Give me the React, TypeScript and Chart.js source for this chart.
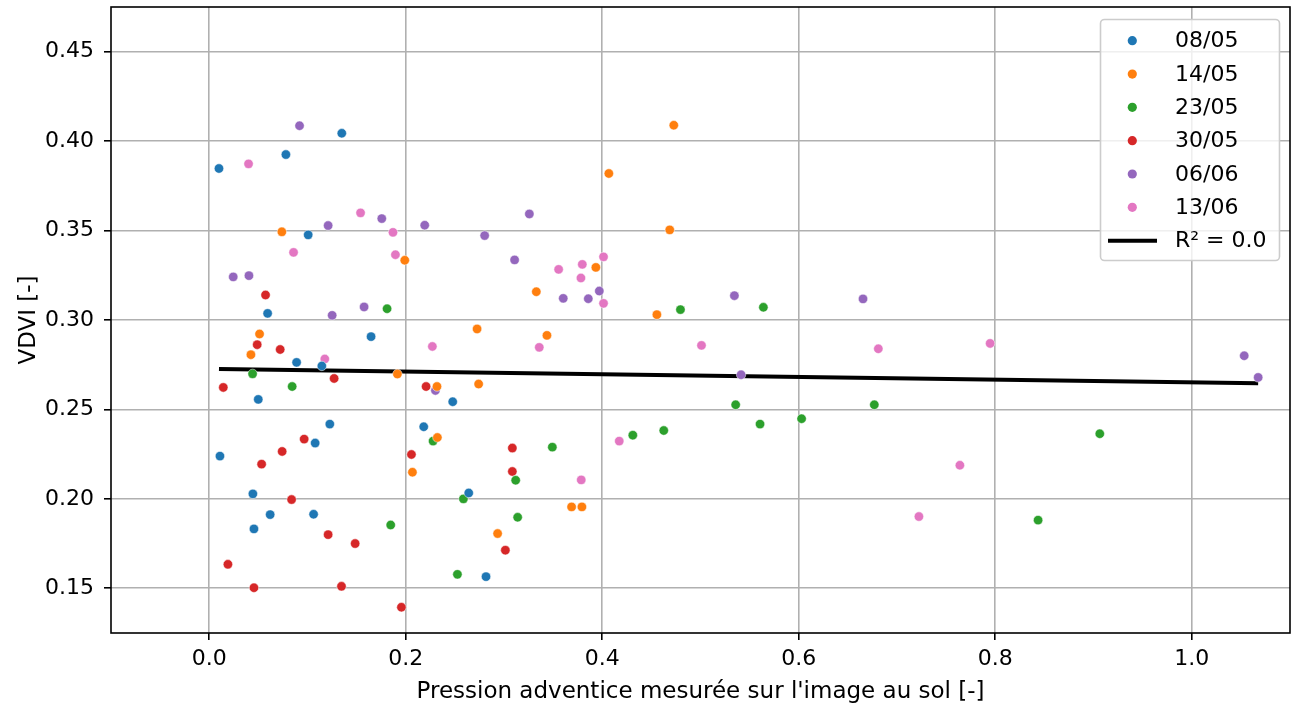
import React, { useEffect, useRef } from "react";
import { Chart, registerables } from "chart.js";

Chart.register(...registerables);

// Survey dates and their colours
const SERIES_LABELS = ["08/05", "14/05", "23/05", "30/05", "06/06", "13/06"];
const SERIES_COLORS = ["#1f77b4", "#ff7f0e", "#2ca02c", "#d62728", "#9467bd", "#e377c2"];

// Weed pressure (x) and VDVI (y) per survey date
const X_0805 = [0.1349, 0.078, 0.0099, 0.1007, 0.0594, 0.1647, 0.0889, 0.1146, 0.0499, 0.2478, 0.1227, 0.2183, 0.1078, 0.0109, 0.0444, 0.2641, 0.062, 0.1062, 0.0455, 0.2817];
const Y_0805 = [0.4044, 0.3925, 0.3847, 0.3476, 0.3037, 0.2907, 0.2763, 0.2743, 0.2556, 0.2543, 0.2418, 0.2403, 0.2312, 0.2239, 0.2028, 0.2033, 0.1912, 0.1914, 0.1832, 0.1565];

const X_1405 = [0.4728, 0.4067, 0.4687, 0.0739, 0.199, 0.3935, 0.3329, 0.4556, 0.2726, 0.0512, 0.3437, 0.0424, 0.1915, 0.2742, 0.2318, 0.2322, 0.2068, 0.3688, 0.3793, 0.2935];
const Y_1405 = [0.4089, 0.3819, 0.3504, 0.3493, 0.3334, 0.3294, 0.3158, 0.303, 0.295, 0.2922, 0.2914, 0.2806, 0.2698, 0.2642, 0.2628, 0.2343, 0.2149, 0.1955, 0.1955, 0.1806];

const X_2305 = [0.181, 0.564, 0.4796, 0.0441, 0.0844, 0.5358, 0.6769, 0.6029, 0.5606, 0.4626, 0.4311, 0.9064, 0.2278, 0.3492, 0.3119, 0.2587, 0.3139, 0.1847, 0.8436, 0.2526];
const Y_2305 = [0.3063, 0.3071, 0.3058, 0.2699, 0.2628, 0.2526, 0.2526, 0.2448, 0.2418, 0.2382, 0.2356, 0.2364, 0.2323, 0.2289, 0.2104, 0.2, 0.1897, 0.1854, 0.1881, 0.1578];

const X_3005 = [0.0573, 0.0488, 0.0722, 0.1271, 0.0143, 0.2207, 0.0966, 0.0742, 0.2058, 0.0533, 0.3085, 0.3085, 0.0838, 0.121, 0.1485, 0.3014, 0.019, 0.0455, 0.1346, 0.1956];
const Y_3005 = [0.314, 0.2862, 0.2835, 0.2673, 0.2623, 0.2628, 0.2334, 0.2265, 0.2248, 0.2194, 0.2284, 0.2153, 0.1996, 0.18, 0.175, 0.1713, 0.1634, 0.1503, 0.1511, 0.1394];

const X_0606 = [0.0919, 0.3258, 0.1756, 0.2193, 0.121, 0.2803, 0.3108, 0.0244, 0.0404, 0.397, 0.5345, 0.3603, 0.3858, 0.6654, 0.1576, 0.1251, 1.0534, 0.5413, 1.0676, 0.2302];
const Y_0606 = [0.4086, 0.3593, 0.3567, 0.353, 0.3528, 0.3472, 0.3336, 0.3241, 0.3248, 0.3162, 0.3136, 0.3121, 0.3119, 0.3118, 0.3073, 0.3026, 0.28, 0.2694, 0.2679, 0.2606];

const X_1306 = [0.04, 0.154, 0.187, 0.0858, 0.1895, 0.4013, 0.3797, 0.3556, 0.3783, 0.4013, 0.501, 0.3359, 0.2271, 0.7948, 0.681, 0.1176, 0.4173, 0.764, 0.3786, 0.7223];
const Y_1306 = [0.3873, 0.3599, 0.349, 0.3378, 0.3365, 0.3353, 0.3311, 0.3283, 0.3235, 0.3093, 0.2858, 0.2847, 0.2852, 0.2869, 0.2839, 0.2782, 0.2323, 0.2188, 0.2106, 0.1901];

const SERIES_X = [X_0805, X_1405, X_2305, X_3005, X_0606, X_1306];
const SERIES_Y = [Y_0805, Y_1405, Y_2305, Y_3005, Y_0606, Y_1306];

// Axis ticks
const X_TICKS = [0.0, 0.2, 0.4, 0.6, 0.8, 1.0];
const Y_TICKS = [0.15, 0.2, 0.25, 0.3, 0.35, 0.4, 0.45];

const FONT = "DejaVu Sans";
const TICK_SIZE = 22;
const TITLE_SIZE = 23;

// Ordinary least-squares fit over every survey point
function linearFit(xs: number[], ys: number[]) {
  const n = xs.length;
  const mx = xs.reduce((s, v) => s + v, 0) / n;
  const my = ys.reduce((s, v) => s + v, 0) / n;
  let sxy = 0;
  let sxx = 0;
  let syy = 0;
  for (let i = 0; i < n; i++) {
    sxy += (xs[i] - mx) * (ys[i] - my);
    sxx += (xs[i] - mx) ** 2;
    syy += (ys[i] - my) ** 2;
  }
  const slope = sxy / sxx;
  const intercept = my - slope * mx;
  const r2 = (sxy * sxy) / (sxx * syy);
  return { slope, intercept, r2 };
}

// Keep tick-label overhang from shrinking the plotting area
function clearPadding(scale: any) {
  scale.paddingTop = 0;
  scale.paddingBottom = 0;
  scale.paddingLeft = 0;
  scale.paddingRight = 0;
}

// Black frame around the plotting area
const framePlugin = {
  id: "frame",
  afterDatasetsDraw(chart: any) {
    const { ctx, chartArea: a } = chart;
    ctx.save();
    ctx.strokeStyle = "#000";
    ctx.lineWidth = 1.6;
    ctx.strokeRect(a.left, a.top, a.right - a.left, a.bottom - a.top);
    ctx.restore();
  },
};

// Boxed legend in the upper-right corner of the plot
const boxLegendPlugin = {
  id: "boxLegend",
  afterDraw(chart: any) {
    const ctx = chart.ctx;
    const left = 1100.5;
    const top = 19.5;
    const w = 179;
    const h = 241;
    const rowTop = 40.7;
    const rowStep = 33.33;
    ctx.save();
    ctx.beginPath();
    ctx.roundRect(left, top, w, h, 4);
    ctx.fillStyle = "rgba(255,255,255,0.8)";
    ctx.fill();
    ctx.strokeStyle = "#cccccc";
    ctx.lineWidth = 1.6;
    ctx.stroke();
    ctx.font = `${TICK_SIZE}px "${FONT}"`;
    ctx.textBaseline = "middle";
    ctx.textAlign = "left";
    chart.data.datasets.forEach((ds: any, i: number) => {
      const y = rowTop + i * rowStep;
      if (ds.type === "line") {
        ctx.beginPath();
        ctx.moveTo(1108, y);
        ctx.lineTo(1157, y);
        ctx.strokeStyle = ds.borderColor;
        ctx.lineWidth = 4;
        ctx.stroke();
      } else {
        ctx.beginPath();
        ctx.arc(1132.3, y, 4.6, 0, Math.PI * 2);
        ctx.fillStyle = ds.backgroundColor;
        ctx.fill();
      }
      ctx.fillStyle = "#000";
      ctx.fillText(ds.label, 1175, y + 1);
    });
    ctx.restore();
  },
};

export default function App() {
  const canvasRef = useRef<HTMLCanvasElement | null>(null);

  useEffect(() => {
    const canvas = canvasRef.current;
    if (!canvas) return;

    const allX = SERIES_X.flat();
    const allY = SERIES_Y.flat();
    const fit = linearFit(allX, allY);
    const xMin = Math.min(...allX);
    const xMax = Math.max(...allX);

    const scatterSets = SERIES_LABELS.map((label, i) => ({
      type: "scatter" as const,
      label,
      data: SERIES_X[i].map((x, j) => ({ x, y: SERIES_Y[i][j] })),
      backgroundColor: SERIES_COLORS[i],
      borderColor: "#ffffff",
      borderWidth: 0.5,
      pointRadius: 4.7,
      order: 0,
    }));

    const fitSet = {
      type: "line" as const,
      label: `R² = ${fit.r2.toFixed(1)}`,
      data: [
        { x: xMin, y: fit.intercept + fit.slope * xMin },
        { x: xMax, y: fit.intercept + fit.slope * xMax },
      ],
      borderColor: "#000000",
      backgroundColor: "#000000",
      borderWidth: 4,
      pointRadius: 0,
      fill: false,
      order: 1,
    };

    const chart = new Chart(canvas, {
      type: "scatter",
      data: { datasets: [...scatterSets, fitSet] as any },
      options: {
        animation: false,
        responsive: false,
        devicePixelRatio: 1,
        layout: { autoPadding: false, padding: { left: 0, top: 7, right: 1, bottom: 0 } },
        plugins: {
          legend: { display: false },
          tooltip: { enabled: false },
        },
        scales: {
          x: {
            type: "linear",
            min: -0.1,
            max: 1.1,
            afterBuildTicks: (scale: any) => {
              scale.ticks = X_TICKS.map((v) => ({ value: v }));
            },
            afterFit: (scale: any) => {
              scale.height = 73;
              clearPadding(scale);
            },
            ticks: {
              color: "#000",
              font: { family: FONT, size: TICK_SIZE },
              padding: 6,
              maxRotation: 0,
              autoSkip: false,
              callback: (v: any) => Number(v).toFixed(1),
            },
            grid: {
              color: "#b0b0b0",
              lineWidth: 1.6,
              drawTicks: true,
              tickLength: 7,
              tickColor: "#000",
              tickWidth: 1.6,
            },
            border: { display: false },
            title: {
              display: true,
              text: "Pression adventice mesurée sur l'image au sol [-]",
              color: "#000",
              font: { family: FONT, size: TITLE_SIZE, lineHeight: 1.2 },
              padding: { top: 2, bottom: 0.2 },
            },
          },
          y: {
            type: "linear",
            min: 0.125,
            max: 0.475,
            afterBuildTicks: (scale: any) => {
              scale.ticks = Y_TICKS.map((v) => ({ value: v }));
            },
            afterFit: (scale: any) => {
              scale.width = 111;
              clearPadding(scale);
            },
            ticks: {
              color: "#000",
              font: { family: FONT, size: TICK_SIZE },
              padding: 10,
              autoSkip: false,
              callback: (v: any) => Number(v).toFixed(2),
            },
            grid: {
              color: "#b0b0b0",
              lineWidth: 1.6,
              drawTicks: true,
              tickLength: 7,
              tickColor: "#000",
              tickWidth: 1.6,
            },
            border: { display: false },
            title: {
              display: true,
              text: "VDVI [-]",
              color: "#000",
              font: { family: FONT, size: TITLE_SIZE, lineHeight: 1.2 },
              padding: { top: 15, bottom: 2 },
            },
          },
        },
      },
      plugins: [framePlugin, boxLegendPlugin],
    });

    return () => chart.destroy();
  }, []);

  return (
    <div style={{ position: "fixed", left: 0, top: 0, width: 1291, height: 706, background: "#fff" }}>
      <canvas ref={canvasRef} width={1291} height={706} style={{ display: "block" }} />
    </div>
  );
}
